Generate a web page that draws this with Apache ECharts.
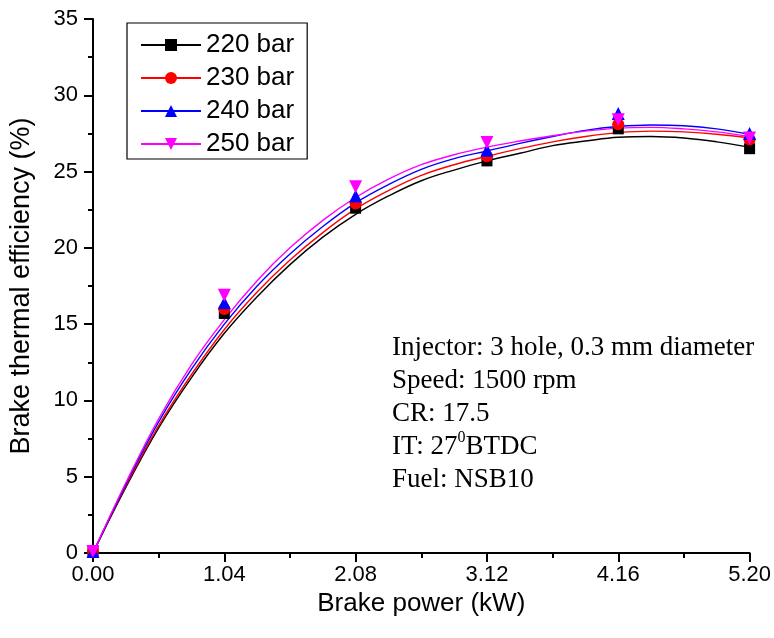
<!DOCTYPE html>
<html>
<head>
<meta charset="utf-8">
<script src="https://cdn.jsdelivr.net/npm/echarts@6/dist/echarts.min.js"></script>
<style>html,body{margin:0;padding:0;background:#fff}#c{width:774px;height:638px}</style>
</head>
<body>
<div id="c"></div>
<script>
// ---- data ----
var seriesNames = ['220 bar', '230 bar', '240 bar', '250 bar'];
var xTicks = [0, 1.04, 2.08, 3.12, 4.16, 5.20];
// measured points (x = brake power kW, y = BTE %)
var pts220 = [[0, 0.1], [1.04, 15.7], [2.08, 22.6], [3.12, 25.7], [4.16, 27.8], [5.20, 26.5]];
var pts230 = [[0, 0.1], [1.04, 16.0], [2.08, 22.9], [3.12, 26.0], [4.16, 28.1], [5.20, 27.1]];
var pts240 = [[0, 0.1], [1.04, 16.4], [2.08, 23.4], [3.12, 26.4], [4.16, 28.8], [5.20, 27.5]];
var pts250 = [[0, 0.1], [1.04, 16.9], [2.08, 24.0], [3.12, 26.9], [4.16, 28.4], [5.20, 27.2]];
// fitted curves at these x positions
var curveX = [0, 0.26, 0.52, 0.78, 1.04, 1.30, 1.56, 1.82, 2.08, 2.34, 2.60, 2.86, 3.12, 3.38, 3.64, 3.90, 4.16, 4.42, 4.68, 4.94, 5.20];
var fit220 = [0, 4.3, 8.2, 11.5, 14.4, 16.8, 18.9, 20.7, 22.2, 23.4, 24.4, 25.1, 25.7, 26.2, 26.7, 27.0, 27.25, 27.3, 27.2, 26.95, 26.6];
var fit230 = [0, 4.4, 8.35, 11.7, 14.65, 17.1, 19.2, 21.0, 22.55, 23.75, 24.75, 25.45, 26.0, 26.5, 26.95, 27.3, 27.55, 27.65, 27.6, 27.45, 27.2];
var fit240 = [0, 4.5, 8.6, 12.05, 15.0, 17.5, 19.6, 21.4, 22.95, 24.15, 25.15, 25.85, 26.35, 26.85, 27.3, 27.7, 27.95, 28.05, 28.0, 27.8, 27.45];
var fit250 = [0, 4.6, 8.8, 12.35, 15.3, 17.85, 20.0, 21.8, 23.3, 24.5, 25.45, 26.1, 26.6, 27.0, 27.35, 27.65, 27.85, 27.9, 27.8, 27.6, 27.3];
var noteLines = ['Injector: 3 hole, 0.3 mm diameter', 'Speed: 1500 rpm', 'CR: 17.5', 'IT: 27', 'Fuel: NSB10'];

var colors = ['#000000', '#ff0000', '#0000ff', '#ff00ff'];
var symbols = ['rect', 'circle', 'triangle', 'triangle'];
var rotates = [0, 0, 0, 180];
var sizes = [11, 12, 13, 13];
var fits = [fit220, fit230, fit240, fit250];
var ptsAll = [pts220, pts230, pts240, pts250];

function pairs(xs, ys) { return xs.map(function (x, i) { return [x, ys[i]]; }); }

var series = [];
seriesNames.forEach(function (n, i) {
  series.push({
    name: n, type: 'line', data: pairs(curveX, fits[i]), smooth: 0.4,
    showSymbol: false, symbol: symbols[i], symbolRotate: rotates[i],
    lineStyle: { color: colors[i], width: 1.4 }, itemStyle: { color: colors[i] },
    z: 2, silent: true
  });
});
seriesNames.forEach(function (n, i) {
  series.push({
    name: n + ' pts', type: 'scatter', data: ptsAll[i],
    symbol: symbols[i], symbolRotate: rotates[i], symbolSize: sizes[i],
    itemStyle: { color: colors[i], opacity: 1 }, z: 3 + i
  });
});

var chart = echarts.init(document.getElementById('c'), null, { renderer: 'canvas' });
var sans = 'Liberation Sans, Arial, sans-serif';
var serif = 'Liberation Serif, Times New Roman, serif';
chart.setOption({
  animation: false,
  backgroundColor: '#ffffff',
  grid: { left: 93, right: 22, top: 19, bottom: 85, containLabel: false },
  legend: {
    data: seriesNames, orient: 'vertical', left: 127, top: 23,
    padding: [9, 13, 2, 13], itemGap: 7, itemWidth: 60, itemHeight: 15,
    borderColor: '#000', borderWidth: 1.2, borderRadius: 0,
    textStyle: { fontFamily: sans, fontSize: 26, color: '#000', lineHeight: 26 },
    selectedMode: false
  },
  xAxis: {
    type: 'value', min: 0, max: 5.2, interval: 1.04,
    name: 'Brake power (kW)', nameLocation: 'middle', nameGap: 31,
    nameTextStyle: { fontFamily: sans, fontSize: 26, color: '#000' },
    axisLine: { lineStyle: { color: '#000', width: 2 } },
    axisTick: { show: true, length: 9, lineStyle: { color: '#000', width: 2 } },
    minorTick: { show: true, splitNumber: 2, length: 5, lineStyle: { color: '#000', width: 2 } },
    splitLine: { show: false },
    axisLabel: { fontFamily: sans, fontSize: 22, color: '#000', margin: 11,
      formatter: function (v) { return v.toFixed(2); } }
  },
  yAxis: {
    type: 'value', min: 0, max: 35, interval: 5,
    name: 'Brake thermal efficiency (%)', nameLocation: 'middle', nameGap: 58,
    nameTextStyle: { fontFamily: sans, fontSize: 27, color: '#000' },
    axisLine: { show: true, lineStyle: { color: '#000', width: 2 } },
    axisTick: { show: true, length: 9, lineStyle: { color: '#000', width: 2 } },
    minorTick: { show: true, splitNumber: 2, length: 5, lineStyle: { color: '#000', width: 2 } },
    splitLine: { show: false },
    axisLabel: { fontFamily: sans, fontSize: 22, color: '#000', margin: 15 }
  },
  graphic: [{
    type: 'text', left: 392, top: 334, z: 10,
    style: {
      text: '{a|' + noteLines[0] + '}\n{a|' + noteLines[1] + '}\n{a|' + noteLines[2] + '}\n{a|' + noteLines[3] + '}{s|0}{a|BTDC}\n{a|' + noteLines[4] + '}',
      fill: '#000',
      rich: {
        a: { fontFamily: serif, fontSize: 27, lineHeight: 33, fill: '#000' },
        s: { fontFamily: serif, fontSize: 16, lineHeight: 21, verticalAlign: 'top', fill: '#000' }
      }
    }
  }],
  series: series
});
</script>
</body>
</html>
